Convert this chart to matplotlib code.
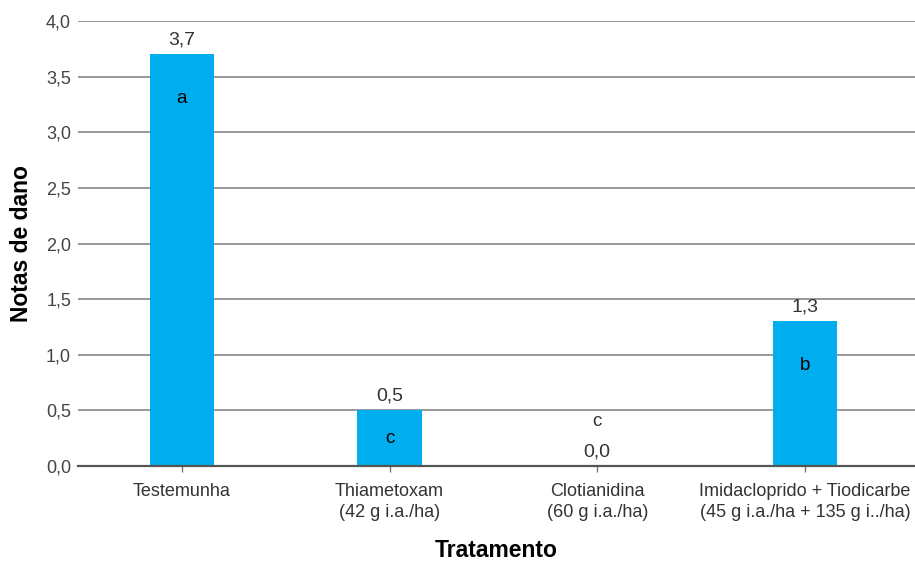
import matplotlib
matplotlib.use("Agg")
import matplotlib.pyplot as plt
import numpy as np

tratamentos = [
    "Testemunha",
    "Thiametoxam\n(42 g i.a./ha)",
    "Clotianidina\n(60 g i.a./ha)",
    "Imidacloprido + Tiodicarbe\n(45 g i.a./ha + 135 g i../ha)",
]
notas = [3.7, 0.5, 0.0, 1.3]
letras = ["a", "c", "c", "b"]

plt.rcParams["font.family"] = ["Liberation Sans", "DejaVu Sans"]

fig = plt.figure(figsize=(9.15, 5.61), dpi=100)
ax = fig.add_axes([0.0852, 0.1693, 0.9148, 0.7933])

x = np.arange(len(tratamentos))
ax.bar(x, notas, width=0.31, color="#00AEEF", zorder=3)

for xi, v, l in zip(x, notas, letras):
    lbl = f"{v:.1f}".replace(".", ",")
    ax.annotate(lbl, (xi, v), xytext=(0, 4), textcoords="offset points",
                ha="center", va="bottom", fontsize=14, color="#333333", zorder=4)
    if v > 0:
        ax.text(xi, max(v - 0.4, v / 2), l, ha="center", va="center",
                fontsize=13.5, color="black", zorder=4)
    else:
        ax.text(xi, v + 0.4, l, ha="center", va="center",
                fontsize=13.5, color="#333333", zorder=4)

ax.set_xlim(-0.5, 3.53)
ax.set_ylim(0, 4.0)
ax.set_yticks(np.arange(0, 4.01, 0.5))
ax.set_yticklabels([f"{t:.1f}".replace(".", ",") for t in np.arange(0, 4.01, 0.5)])
ax.set_xticks(x)
ax.set_xticklabels(tratamentos, linespacing=1.3)

ax.grid(axis="y", color="#999999", linewidth=1.4, zorder=0)
for s in ["left", "right", "top"]:
    ax.spines[s].set_visible(False)
ax.spines["bottom"].set_color("#555555")
ax.spines["bottom"].set_linewidth(1.6)
ax.spines["bottom"].set_zorder(5)

ax.tick_params(axis="y", length=0, pad=5, labelsize=13, labelcolor="#444444")
ax.tick_params(axis="x", length=4, width=1, color="#777777", pad=8,
               labelsize=13, labelcolor="#333333")

ax.set_xlabel("Tratamento", fontsize=16.5, fontweight="bold", labelpad=13)
ax.set_ylabel("Notas de dano", fontsize=16.5, fontweight="bold", labelpad=9)

fig.savefig("out.png", dpi=100)
